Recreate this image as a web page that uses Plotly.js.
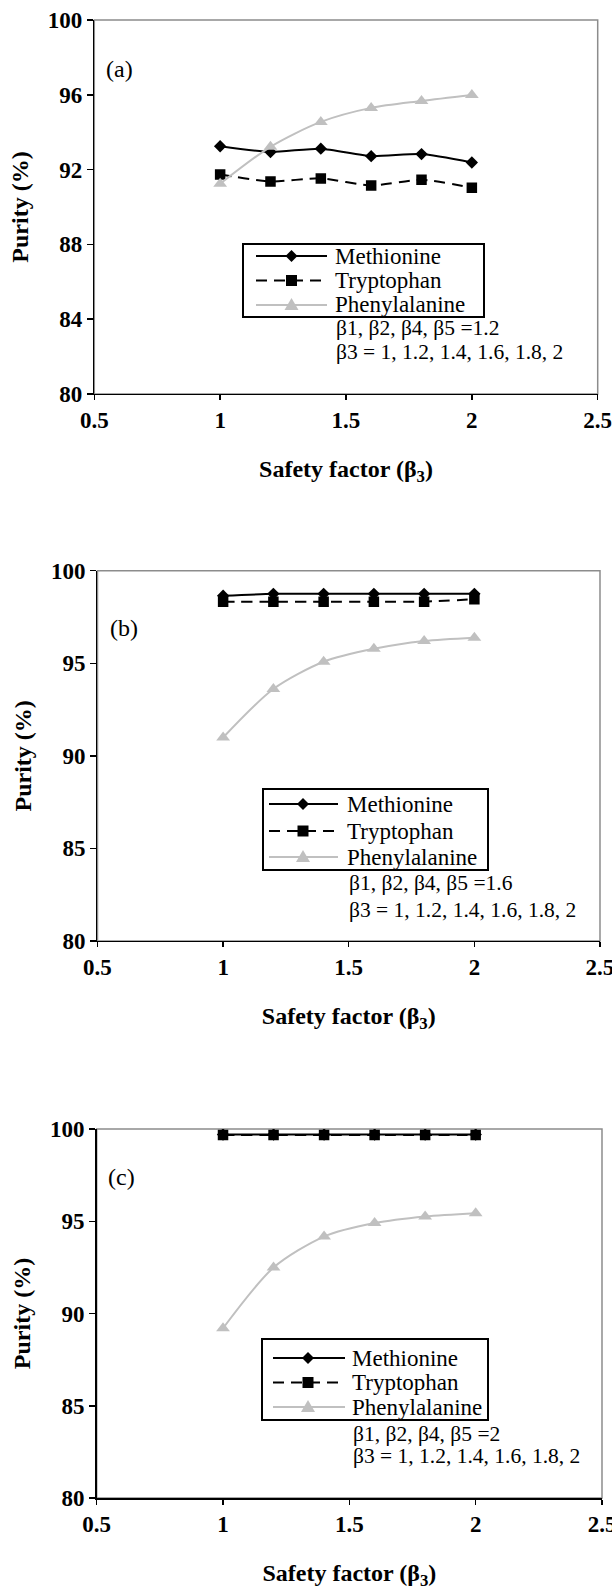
<!DOCTYPE html>
<html>
<head>
<meta charset="utf-8">
<script src="https://cdn.plot.ly/plotly-3.0.1.min.js"></script>
<style>html,body{margin:0;padding:0;background:#fff;}#chart{width:612px;height:1591px;}</style>
</head>
<body>
<div id="chart"></div>
<script>
// ---- data ----
const beta3 = [1, 1.2, 1.4, 1.6, 1.8, 2];
const seriesNames = ['Methionine', 'Tryptophan', 'Phenylalanine'];

const aMethionine    = [93.25, 92.94, 93.12, 92.72, 92.83, 92.38];
const aTryptophan    = [91.74, 91.37, 91.53, 91.15, 91.46, 91.03];
const aPhenylalanine = [91.24, 93.22, 94.55, 95.30, 95.67, 95.99];

const bMethionine    = [98.65, 98.75, 98.75, 98.75, 98.75, 98.75];
const bTryptophan    = [98.33, 98.33, 98.33, 98.33, 98.33, 98.46];
const bPhenylalanine = [90.99, 93.61, 95.08, 95.78, 96.20, 96.38];

const cMethionine    = [99.70, 99.70, 99.70, 99.70, 99.70, 99.70];
const cTryptophan    = [99.68, 99.68, 99.68, 99.68, 99.68, 99.68];
const cPhenylalanine = [89.20, 92.49, 94.17, 94.90, 95.26, 95.44];

const xTickVals = [0.5, 1, 1.5, 2, 2.5];
const xTickText = ['0.5', '1', '1.5', '2', '2.5'];
const yTicksA = [80, 84, 88, 92, 96, 100];
const yTicksBC = [80, 85, 90, 95, 100];

const panelLabels = ['(a)', '(b)', '(c)'];
const paramLine1 = ['\u03b21, \u03b22, \u03b24, \u03b25 =1.2', '\u03b21, \u03b22, \u03b24, \u03b25 =1.6', '\u03b21, \u03b22, \u03b24, \u03b25 =2'];
const paramLine2 = '\u03b23 = 1, 1.2, 1.4, 1.6, 1.8, 2';
const xTitle = 'Safety factor (\u03b2<sub>3</sub>)';
const yTitle = 'Purity (%)';

// ---- styling ----
const SERIF = 'Liberation Serif';
const W = 612, H = 1591;
const px = v => v / W;          // pixel -> paper x
const py = v => 1 - v / H;      // pixel -> paper y

const styles = [
  {line: {color: '#000000', width: 2, shape: 'spline', smoothing: 0.6}, marker: {symbol: 'diamond', size: 9.5, color: '#000000'},
   legendPath: 'M0,6 L6,0 L0,-6 L-6,0 Z'},
  {line: {color: '#000000', width: 2, dash: '11px,7px', shape: 'spline', smoothing: 0.6}, marker: {symbol: 'square', size: 10.5, color: '#000000'},
   legendPath: 'M-5.5,-5.5 L5.5,-5.5 L5.5,5.5 L-5.5,5.5 Z'},
  {line: {color: '#c0c0c0', width: 2, shape: 'spline', smoothing: 0.8}, marker: {symbol: 'triangle-up', size: 12, color: '#c0c0c0'},
   legendPath: 'M-7,-5 L7,-5 L0,7 Z'}
];

const panels = [
  {vals: [aMethionine, aTryptophan, aPhenylalanine], xa: 'x', ya: 'y'},
  {vals: [bMethionine, bTryptophan, bPhenylalanine], xa: 'x2', ya: 'y2'},
  {vals: [cMethionine, cTryptophan, cPhenylalanine], xa: 'x3', ya: 'y3'}
];

const traces = [];
panels.forEach(p => {
  p.vals.forEach((v, i) => {
    traces.push({
      type: 'scatter', mode: 'lines+markers',
      x: beta3, y: v, name: seriesNames[i],
      xaxis: p.xa, yaxis: p.ya, showlegend: false,
      line: styles[i].line, marker: styles[i].marker
    });
  });
});

function xAxis(domain, anchor) {
  return {
    domain: domain, anchor: anchor, range: [0.5, 2.5],
    tickvals: xTickVals, ticktext: xTickText,
    ticks: 'outside', ticklen: 5, tickwidth: 1.5, tickcolor: '#000',
    showline: true, linecolor: '#000', linewidth: 1.5,
    showgrid: false, zeroline: false, ticklabeloverflow: 'allow',
    tickfont: {family: SERIF, size: 23, color: '#000', weight: 'bold'},
    title: {text: xTitle, font: {family: SERIF, size: 24, color: '#000', weight: 'bold'}, standoff: 28}
  };
}
function yAxis(domain, anchor, ticks) {
  return {
    domain: domain, anchor: anchor, range: [80, 100],
    tickvals: ticks,
    ticks: 'outside', ticklen: 6, tickwidth: 1.5, tickcolor: '#000',
    showline: true, linecolor: '#000', linewidth: 1.5,
    showgrid: false, zeroline: false,
    tickfont: {family: SERIF, size: 23, color: '#000', weight: 'bold'},
    title: {text: yTitle, font: {family: SERIF, size: 24, color: '#000', weight: 'bold'}, standoff: 12}
  };
}

// gray plot frames (top/right edges show gray as in the reference)
const shapes = ['', '2', '3'].map(s => ({
  type: 'rect', xref: 'x' + s + ' domain', yref: 'y' + s + ' domain',
  x0: 0, x1: 1, y0: 0, y1: 1, layer: 'below',
  line: {color: '#8c8c8c', width: 1.5}, fillcolor: 'rgba(0,0,0,0)'
}));

// legend boxes drawn per panel (pixel positions of the boxes)
const legendBoxes = [
  {x0: 243, x1: 484, y0: 244, y1: 317, rows: [256, 280.5, 305], lx0: 256, lx1: 327, mx: 291.5, tx: 333},
  {x0: 263, x1: 488, y0: 789, y1: 870, rows: [804, 831, 857], lx0: 269, lx1: 338, mx: 303, tx: 345},
  {x0: 262, x1: 488, y0: 1339, y1: 1420, rows: [1358, 1382.5, 1407], lx0: 273, lx1: 345, mx: 308, tx: 350}
];
const annotations = [];
legendBoxes.forEach(b => {
  shapes.push({type: 'rect', xref: 'paper', yref: 'paper', layer: 'above',
    x0: px(b.x0), x1: px(b.x1), y0: py(b.y1), y1: py(b.y0),
    line: {color: '#000', width: 2}, fillcolor: '#fff'});
  b.rows.forEach((r, i) => {
    const ln = {color: styles[i].line.color, width: styles[i].line.width};
    if (styles[i].line.dash) ln.dash = styles[i].line.dash;
    shapes.push({type: 'line', xref: 'paper', yref: 'paper', layer: 'above',
      x0: px(b.lx0), x1: px(b.lx1), y0: py(r), y1: py(r), line: ln});
    shapes.push({type: 'path', xref: 'paper', yref: 'paper', layer: 'above',
      xsizemode: 'pixel', ysizemode: 'pixel', xanchor: px(b.mx), yanchor: py(r),
      path: styles[i].legendPath, fillcolor: styles[i].marker.color, line: {width: 0}});
    annotations.push({xref: 'paper', yref: 'paper', x: px(b.tx), y: py(r),
      xanchor: 'left', yanchor: 'middle', showarrow: false, text: seriesNames[i],
      font: {family: SERIF, size: 23, color: '#000'}});
  });
});

const labelPos = [
  {x: 0.02, y: 0.870}, {x: 0.02, y: 0.846}, {x: 0.018, y: 0.870}
];
const paramPos = [
  {x: 0.477, y1: 0.177, y2: 0.113},
  {x: 0.496, y1: 0.156, y2: 0.083},
  {x: 0.504, y1: 0.174, y2: 0.113}
];
['', '2', '3'].forEach((s, i) => {
  annotations.push({
    xref: 'x' + s + ' domain', yref: 'y' + s + ' domain',
    x: labelPos[i].x, y: labelPos[i].y, xanchor: 'left', yanchor: 'middle',
    text: panelLabels[i], showarrow: false,
    font: {family: SERIF, size: 24, color: '#000'}
  });
  annotations.push({
    xref: 'x' + s + ' domain', yref: 'y' + s + ' domain',
    x: paramPos[i].x, y: paramPos[i].y1, xanchor: 'left', yanchor: 'middle',
    text: paramLine1[i], showarrow: false,
    font: {family: SERIF, size: 21.5, color: '#000'}
  });
  annotations.push({
    xref: 'x' + s + ' domain', yref: 'y' + s + ' domain',
    x: paramPos[i].x, y: paramPos[i].y2, xanchor: 'left', yanchor: 'middle',
    text: paramLine2, showarrow: false,
    font: {family: SERIF, size: 21.5, color: '#000'}
  });
});

const layout = {
  width: W, height: H,
  margin: {l: 0, r: 0, t: 0, b: 0},
  paper_bgcolor: '#fff', plot_bgcolor: '#fff',
  showlegend: false,
  xaxis:  xAxis([0.15408, 0.97663], 'y'),
  yaxis:  yAxis([0.75236, 0.98743], 'x', yTicksA),
  xaxis2: xAxis([0.15931, 0.98039], 'y2'),
  yaxis2: yAxis([0.40855, 0.64129], 'x2', yTicksBC),
  xaxis3: xAxis([0.15801, 0.98366], 'y3'),
  yaxis3: yAxis([0.05845, 0.29038], 'x3', yTicksBC),
  shapes: shapes,
  annotations: annotations
};

Plotly.newPlot('chart', traces, layout, {displayModeBar: false, staticPlot: true});
</script>
</body>
</html>
